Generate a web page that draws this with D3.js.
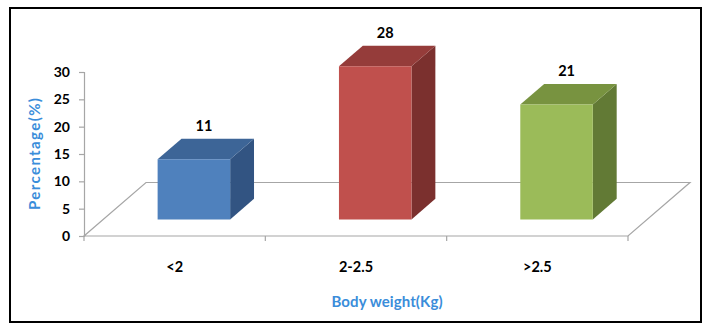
<!DOCTYPE html>
<html>
<head>
<meta charset="utf-8">
<script src="https://cdn.jsdelivr.net/npm/d3@7"></script>
<style>
  html, body { margin: 0; padding: 0; background: #ffffff; }
  svg { display: block; }
  text { font-family: Lato, "Open Sans", sans-serif; font-weight: bold; }
</style>
</head>
<body>
<svg id="chart" width="709" height="325"></svg>
<script>
// Birth weight distribution
const categories = ["<2", "2-2.5", ">2.5"];
const values = [11, 28, 21];
const yTicks = [0, 5, 10, 15, 20, 25, 30];
const frontColors = ["#4F81BD", "#C0504D", "#9BBB59"];
const topColors = ["#3D6597", "#953C3A", "#789340"];
const sideColors = ["#325482", "#7B302E", "#627A35"];

const svg = d3.select("#chart");

// outer frame
svg.append("rect")
  .attr("x", 10).attr("y", 8)
  .attr("width", 691).attr("height", 314)
  .attr("fill", "none").attr("stroke", "#000").attr("stroke-width", 2);

// front plane of the 3D plot
const x0 = 84, x1 = 628;
const x = d3.scaleBand().domain(categories).range([x0, x1]).paddingInner(0).paddingOuter(0);
const y = d3.scaleLinear().domain([0, 30]).range([236, 72]);

// floor depth vector (full depth)
const depth = { x: 62, y: -53.5 };
const proj = (px, py, f) => [px + f * depth.x, py + f * depth.y];

const gray = "#A6A6A6";

// floor outline
const floorPts = [
  proj(x0, y(0), 0), proj(x1, y(0), 0), proj(x1, y(0), 1), proj(x0, y(0), 1)
];
svg.append("polygon")
  .attr("points", floorPts.map(p => p.join(",")).join(" "))
  .attr("fill", "none").attr("stroke", gray).attr("stroke-width", 1.2);

// y axis
const yAxis = d3.axisLeft(y).tickValues(yTicks).tickSize(5).tickPadding(9);
const gy = svg.append("g").attr("transform", `translate(${x0},0)`).call(yAxis);
gy.select(".domain").attr("stroke", gray).attr("stroke-width", 1.2);
gy.selectAll(".tick line").attr("stroke", gray).attr("stroke-width", 1.2);
gy.selectAll(".tick text")
  .attr("fill", "#000").style("font-size", "14px").style("font-weight", "bold")
  .style("font-family", "Lato, sans-serif");

// x axis (category boundaries as ticks)
const gx = svg.append("g").attr("transform", `translate(0,${y(0)})`);
const bounds = categories.map(c => x(c)).concat([x1]);
gx.selectAll("line.b").data(bounds).join("line")
  .attr("x1", d => d).attr("x2", d => d)
  .attr("y1", 0).attr("y2", 5)
  .attr("stroke", gray).attr("stroke-width", 1.2);
gx.selectAll("text").data(categories).join("text")
  .attr("x", d => x(d) + x.bandwidth() / 2)
  .attr("y", 36)
  .attr("text-anchor", "middle")
  .attr("fill", "#000").style("font-size", "14.5px")
  .text(d => d);

// bars
const f0 = 0.31, f1 = 0.695;
const barW = x.bandwidth() * 0.4;
const bars = svg.append("g");
categories.forEach((c, i) => {
  const cx = x(c) + x.bandwidth() / 2;
  const xl = cx - barW / 2, xr = cx + barW / 2;
  const yb = y(0), yt = y(values[i]);
  const poly = pts => pts.map(p => p.join(",")).join(" ");
  const g = bars.append("g");
  g.append("polygon").attr("fill", sideColors[i])
    .attr("points", poly([proj(xr, yb, f0), proj(xr, yt, f0), proj(xr, yt, f1), proj(xr, yb, f1)]));
  g.append("polygon").attr("fill", topColors[i])
    .attr("points", poly([proj(xl, yt, f0), proj(xr, yt, f0), proj(xr, yt, f1), proj(xl, yt, f1)]));
  g.append("polygon").attr("fill", frontColors[i])
    .attr("points", poly([proj(xl, yb, f0), proj(xr, yb, f0), proj(xr, yt, f0), proj(xl, yt, f0)]));
  // value label above the bar
  const back = proj(cx, yt, f1);
  const front = proj(cx, yt, f0);
  g.append("text")
    .attr("x", front[0] + 10)
    .attr("y", back[1] - 8)
    .attr("text-anchor", "middle")
    .attr("fill", "#000").style("font-size", "14.5px")
    .text(values[i]);
});

// axis titles
const titleBlue = "#3A8DDA";
svg.append("text")
  .attr("x", (x0 + x1 + depth.x) / 2)
  .attr("y", 307)
  .attr("text-anchor", "middle")
  .attr("fill", titleBlue).style("font-size", "15px")
  .attr("textLength", 111).attr("lengthAdjust", "spacing")
  .text("Body weight(Kg)");
svg.append("text")
  .attr("transform", `translate(40,154) rotate(-90)`)
  .attr("text-anchor", "middle")
  .attr("fill", titleBlue).style("font-size", "15px")
  .attr("textLength", 112).attr("lengthAdjust", "spacing")
  .text("Percentage(%)");
</script>
</body>
</html>
